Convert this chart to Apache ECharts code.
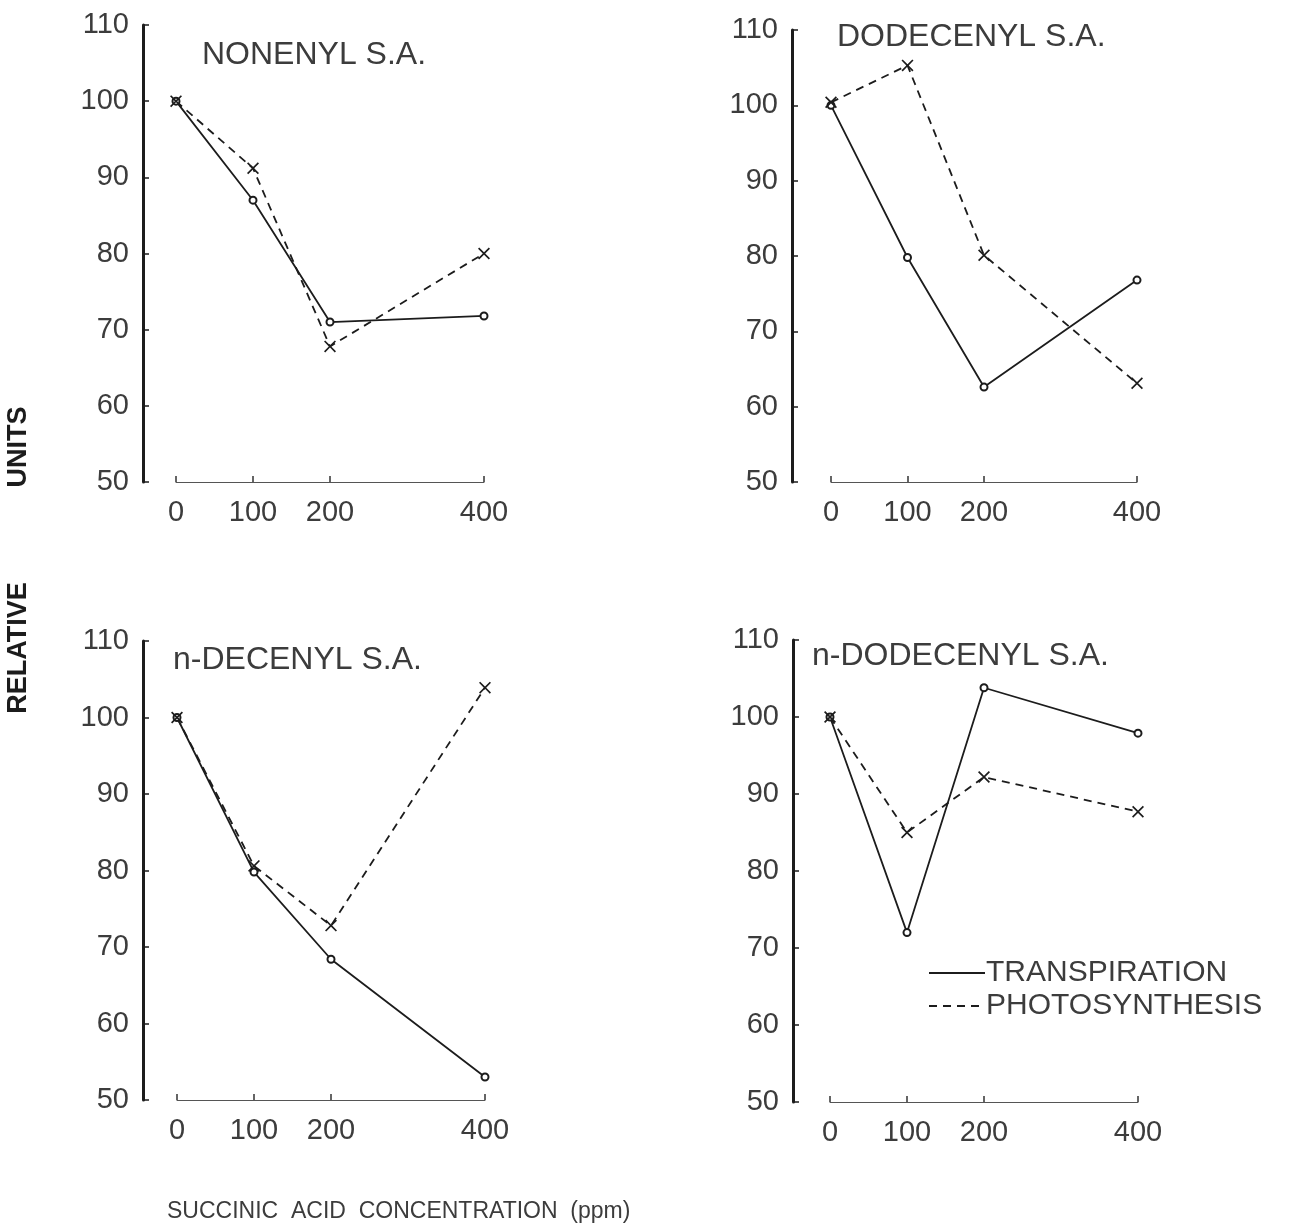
<!DOCTYPE html>
<html style="height: 100%">
<head>
    <meta charset="utf-8">
</head>
<body style="height: 100%; margin: 0; background: #fff">
<div id="container" style="width: 1312px; height: 1231px"></div>
<script src="https://cdn.jsdelivr.net/npm/echarts@6/dist/echarts.min.js"></script>
<script type="text/javascript">
    // concentration (ppm) on x, relative units on y
    var concentrations = [0, 100, 200, 400];
    var panelTitles = ['NONENYL S.A.', 'DODECENYL S.A.', 'n-DECENYL S.A.', 'n-DODECENYL S.A.'];

    var transNonenyl = [100, 87, 71, 71.8];
    var photoNonenyl = [100, 91.2, 67.8, 80];

    var transDodecenyl = [100, 79.8, 62.6, 76.8];
    var photoDodecenyl = [100.4, 105.3, 80.1, 63.1];

    var transDecenyl = [100, 79.8, 68.4, 53];
    var photoDecenyl = [100, 80.6, 72.8, 103.9];

    var transNDodecenyl = [100, 72, 103.8, 97.9];
    var photoNDodecenyl = [100, 85, 92.2, 87.7];

    var transAll = [transNonenyl, transDodecenyl, transDecenyl, transNDodecenyl];
    var photoAll = [photoNonenyl, photoDodecenyl, photoDecenyl, photoNDodecenyl];

    // layout of the four small plots
    var grids = [
        {left: 176, top: 25, width: 308, height: 457, offset: 33, titleLeft: 202, titleTop: 39},
        {left: 831, top: 30, width: 306, height: 452, offset: 39, titleLeft: 837, titleTop: 21},
        {left: 177, top: 641, width: 308, height: 459, offset: 34, titleLeft: 173, titleTop: 644},
        {left: 830, top: 640, width: 308, height: 462, offset: 37, titleLeft: 812, titleTop: 640}
    ];

    var ink = '#1c1c1c';
    var textInk = '#3c3c3c';
    var font = 'Liberation Sans';
    var xMark = 'path://M0,1 L1,0 L5,4 L9,0 L10,1 L6,5 L10,9 L9,10 L5,6 L1,10 L0,9 L4,5 Z';

    function pairs(vals) {
        return concentrations.map(function (c, i) { return [c, vals[i]]; });
    }

    var option = {
        backgroundColor: '#fff',
        animation: false,
        textStyle: {fontFamily: font},
        title: [],
        grid: [],
        xAxis: [],
        yAxis: [],
        series: [],
        legend: {
            left: 928,
            top: 958,
            orient: 'vertical',
            itemWidth: 56,
            itemHeight: 12,
            itemGap: 3,
            padding: 0,
            selectedMode: false,
            itemStyle: {opacity: 0},
            data: ['TRANSPIRATION', 'PHOTOSYNTHESIS'],
            textStyle: {fontSize: 30, color: textInk, fontFamily: font, padding: [0, 0, 0, -4]}
        },
        graphic: [
            {
                type: 'text', x: 5, y: 648, rotation: Math.PI / 2,
                style: {text: 'RELATIVE', font: 'bold 27px ' + font, fill: ink, textAlign: 'center', textVerticalAlign: 'top'}
            },
            {
                type: 'text', x: 5, y: 447, rotation: Math.PI / 2,
                style: {text: 'UNITS', font: 'bold 27px ' + font, fill: ink, textAlign: 'center', textVerticalAlign: 'top'}
            },
            {
                type: 'text', left: 167, top: 1200,
                style: {text: 'SUCCINIC  ACID  CONCENTRATION  (ppm)', font: '23px ' + font, fill: textInk}
            }
        ]
    };

    grids.forEach(function (g, i) {
        option.title.push({
            text: panelTitles[i],
            left: g.titleLeft,
            top: g.titleTop,
            padding: 0,
            textStyle: {fontSize: 32, fontWeight: 'normal', color: textInk, fontFamily: font}
        });
        option.grid.push({left: g.left, top: g.top, width: g.width, height: g.height});
        option.xAxis.push({
            type: 'value',
            gridIndex: i,
            min: 0,
            max: 400,
            splitLine: {show: false},
            axisLine: {onZero: false, lineStyle: {color: '#555', width: 1}},
            axisTick: {inside: true, length: 6, customValues: concentrations, lineStyle: {color: '#333', width: 1.5}},
            axisLabel: {customValues: concentrations, fontSize: 29, color: textInk, margin: 16, fontFamily: font}
        });
        option.yAxis.push({
            type: 'value',
            gridIndex: i,
            min: 50,
            max: 110,
            interval: 10,
            offset: g.offset,
            splitLine: {show: false},
            axisLine: {show: true, onZero: false, lineStyle: {color: ink, width: 3}},
            axisTick: {show: true, inside: true, length: 6, lineStyle: {color: ink, width: 1.5}},
            axisLabel: {fontSize: 29, color: textInk, margin: 14, fontFamily: font}
        });
        option.series.push({
            name: 'TRANSPIRATION',
            type: 'line',
            xAxisIndex: i,
            yAxisIndex: i,
            data: pairs(transAll[i]),
            symbol: 'emptyCircle',
            symbolSize: 7,
            itemStyle: {color: ink, borderWidth: 1.5},
            lineStyle: {color: ink, width: 1.8, type: 'solid'}
        });
        option.series.push({
            name: 'PHOTOSYNTHESIS',
            type: 'line',
            xAxisIndex: i,
            yAxisIndex: i,
            data: pairs(photoAll[i]),
            symbol: xMark,
            symbolSize: 12,
            itemStyle: {color: ink},
            lineStyle: {color: ink, width: 1.8, type: [8, 6]}
        });
    });

    var dom = document.getElementById("container");
    var myChart = echarts.init(dom);
    myChart.setOption(option);
</script>
</body>
</html>
